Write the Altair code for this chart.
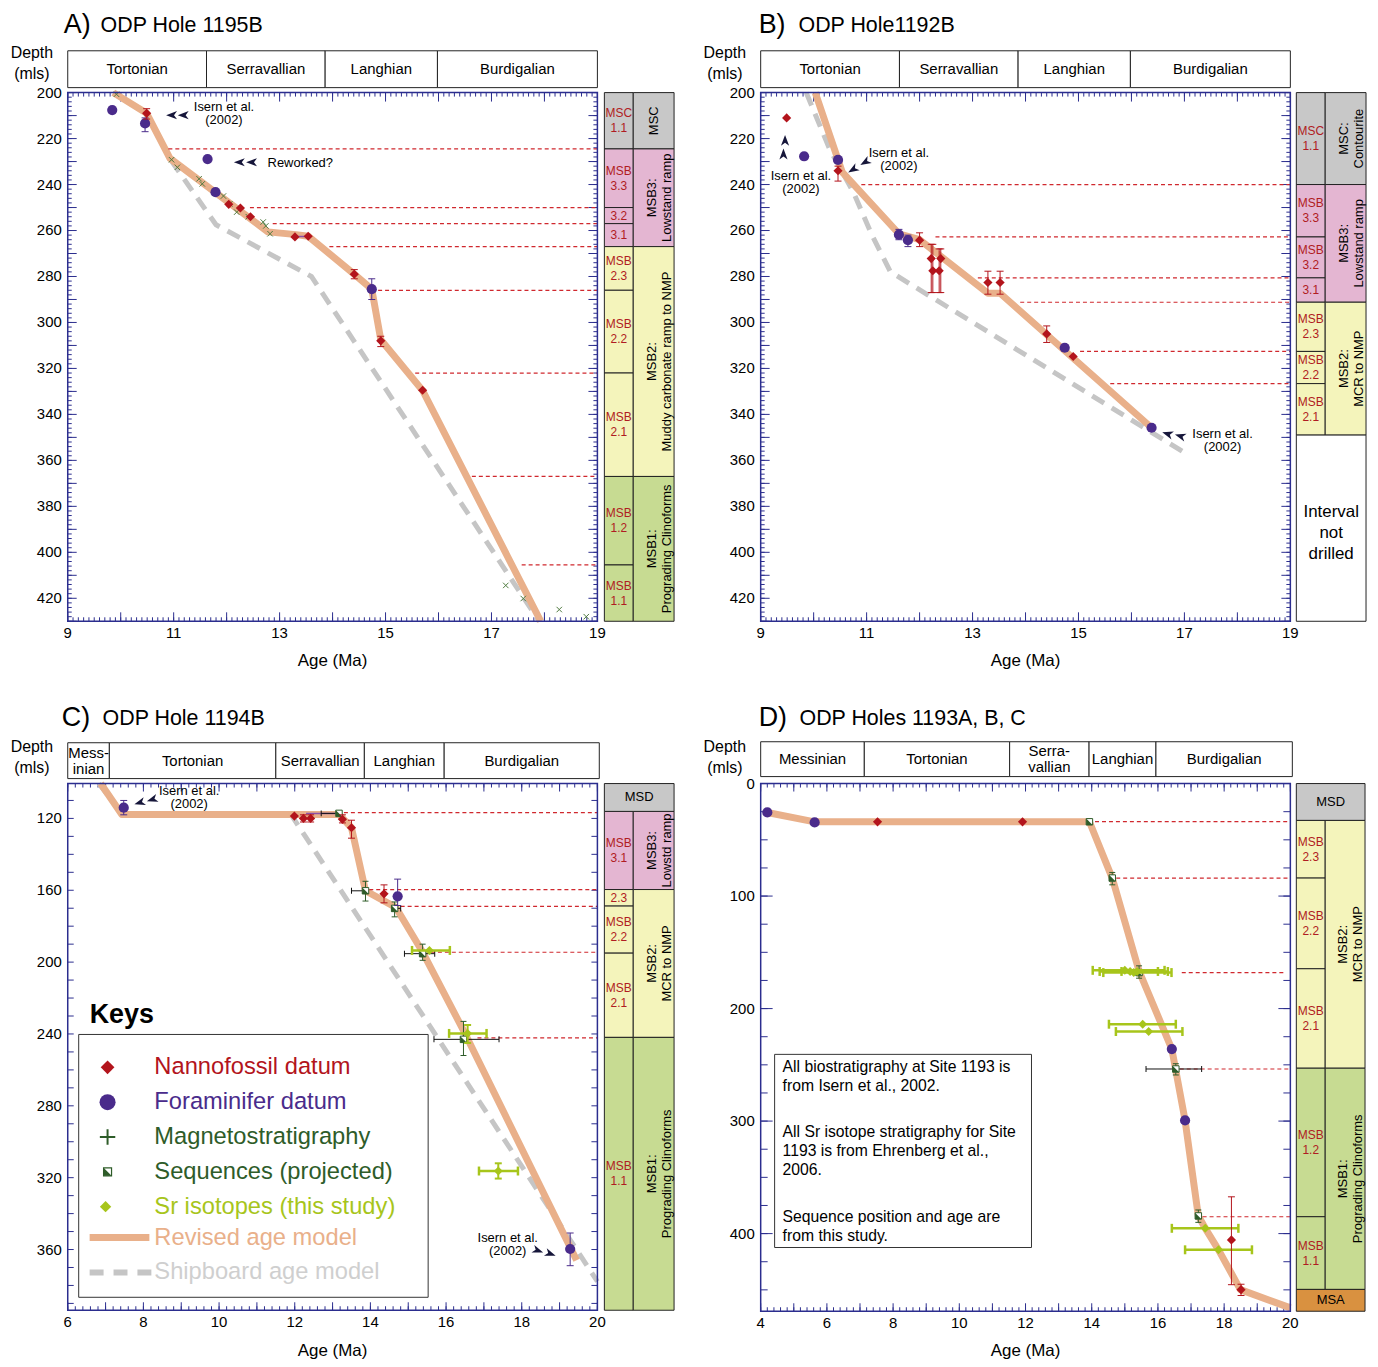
import altair as alt
import numpy as np
import pandas as pd

# ============================ DATA ============================
# ---- stage bars (ages of stage boundaries, Ma)
A_STAGE_NAMES = ["Tortonian", "Serravallian", "Langhian", "Burdigalian"]
A_STAGE_BOUNDS = [9, 11.62, 13.86, 15.98, 19]
B_STAGE_NAMES = ["Tortonian", "Serravallian", "Langhian", "Burdigalian"]
B_STAGE_BOUNDS = [9, 11.62, 13.86, 15.98, 19]
C_STAGE_NAMES = ["Mess-\ninian", "Tortonian", "Serravallian", "Langhian", "Burdigalian"]
C_STAGE_BOUNDS = [6, 7.1, 11.5, 13.84, 15.95, 20.05]
D_STAGE_NAMES = ["Messinian", "Tortonian", "Serra-\nvallian", "Langhian", "Burdigalian"]
D_STAGE_BOUNDS = [4, 7.13, 11.52, 13.92, 15.94, 20.06]

# ---- tick labels
A_XLAB = [9, 11, 13, 15, 17, 19]
A_YLAB = [200, 220, 240, 260, 280, 300, 320, 340, 360, 380, 400, 420]
B_XLAB = [9, 11, 13, 15, 17, 19]
B_YLAB = [200, 220, 240, 260, 280, 300, 320, 340, 360, 380, 400, 420]
C_XLAB = [6, 8, 10, 12, 14, 16, 18, 20]
C_YLAB = [120, 160, 200, 240, 280, 320, 360]
D_XLAB = [4, 6, 8, 10, 12, 14, 16, 18, 20]
D_YLAB = [0, 100, 200, 300, 400]

# ---- Panel A : ODP Hole 1195B
A_REV_AGE = [9.86, 10.49, 10.93, 12.78, 13.31, 13.54, 14.41, 14.74, 14.91, 15.70, 17.93]
A_REV_DEPTH = [200, 209, 228.6, 260.6, 261.8, 262.5, 279, 285.5, 307.5, 329.6, 430]
A_SHIP_AGE = [10.95, 11.8, 13.6, 17.9]
A_SHIP_DEPTH = [229.5, 257.5, 280, 430]
A_FORAM_AGE = [9.84, 10.46, 11.64, 11.79, 14.74]
A_FORAM_DEPTH = [207.6, 213.4, 228.9, 243.3, 285.5]
A_FORAM_ERR = [None, (211, 217), None, None, (281, 290)]
A_NANNO_AGE = [10.49, 12.04, 12.26, 12.45, 13.29, 13.54, 14.41, 14.91, 15.70]
A_NANNO_DEPTH = [209, 248.6, 250.2, 254, 262.8, 262.5, 279, 308, 329.5]
A_NANNO_ERR = [(207, 211.5), None, None, None, None, None, (277, 281), (306, 310.5), None]
A_MAG_AGE = [9.92, 10.96, 11.07, 11.48, 11.54, 11.94, 12.06, 12.19, 12.41, 12.69, 12.74, 12.82,
             17.27, 17.6, 18.28, 18.79]
A_MAG_DEPTH = [200.7, 229.2, 232.5, 237.5, 239.7, 245, 248.4, 252, 254, 256.3, 258, 261.4,
               414.4, 420.1, 424.9, 428]
A_RANGE_FROM = [13.29]
A_RANGE_TO = [13.54]
A_RANGE_DEPTH = [262.6]
A_SEQLINE_DEPTH = [224.5, 250, 257, 267, 286, 322, 367, 405.5]
A_SEQLINE_START = [10.9, 12.44, 12.87, 13.94, 14.86, 15.56, 16.63, 17.57]
A_NOTE_TEXT = ["Isern et al.\n(2002)", "Reworked?"]
A_NOTE_AGE = [11.95, 13.39]
A_NOTE_DEPTH = [209.3, 230.5]
A_ARROW_AGE = [10.96, 11.18, 12.24, 12.47]
A_ARROW_DEPTH = [209.8, 209.8, 230.3, 230.3]
A_ARROW_ANGLE = [0, 0, 0, 0]
A_SUB_TOP = [200, 224.5, 250, 257, 267, 286, 322, 367, 405.5]
A_SUB_BOT = [224.5, 250, 257, 267, 286, 322, 367, 405.5, 430]
A_SUB_LABEL = ["MSC\n1.1", "MSB\n3.3", "3.2", "3.1", "MSB\n2.3", "MSB\n2.2", "MSB\n2.1", "MSB\n1.2", "MSB\n1.1"]
A_SUB_UNIT = ["MSC", "MSB3", "MSB3", "MSB3", "MSB2", "MSB2", "MSB2", "MSB1", "MSB1"]
A_UNIT_TOP = [200, 224.5, 267, 367]
A_UNIT_BOT = [224.5, 267, 367, 430]
A_UNIT_LABEL = ["MSC", "MSB3:\nLowstand ramp", "MSB2:\nMuddy carbonate ramp to NMP", "MSB1:\nPrograding Clinoforms"]
A_UNIT_UNIT = ["MSC", "MSB3", "MSB2", "MSB1"]

# ---- Panel B : ODP Hole 1192B
B_REV_AGE = [10.03, 10.54, 11.61, 12.0, 13.29, 13.52, 16.38]
B_REV_DEPTH = [200, 234.6, 261.4, 264, 287.3, 287.3, 345.8]
B_SHIP_AGE = [9.86, 10.3, 10.75, 11.1, 11.45, 17.0]
B_SHIP_DEPTH = [200, 224.5, 243.3, 262, 278, 356.6]
B_FORAM_AGE = [9.82, 10.46, 11.61, 11.78, 14.74, 16.38]
B_FORAM_DEPTH = [227.7, 229.3, 261.8, 264.2, 311, 345.8]
B_FORAM_ERR = [None, None, (259.5, 264), (262, 267), None, None]
B_NANNO_AGE = [9.49, 10.46, 12.0, 12.22, 12.25, 12.37, 12.4, 13.29, 13.52, 14.4, 14.9]
B_NANNO_DEPTH = [211, 234, 264.2, 272.2, 277.5, 277.5, 272.2, 282.6, 282.6, 305, 314.8]
B_NANNO_ERR = [None, (232, 238.5), (261, 267), (266, 287), (266, 287), (268, 287), (268, 287),
               (277.7, 287.7), (277.7, 287.7), (301.5, 308.7), None]
B_SEQLINE_DEPTH = [240, 262.8, 280.6, 291.2, 312.6, 326.6]
B_SEQLINE_START = [10.9, 12.3, 13.1, 13.9, 15.03, 15.6]
B_NOTE_TEXT = ["Isern et al.\n(2002)", "Isern et al.\n(2002)", "Isern et al.\n(2002)"]
B_NOTE_AGE = [9.76, 11.61, 17.72]
B_NOTE_DEPTH = [239, 229, 351.3]
B_ARROW_AGE = [9.46, 9.43, 10.74, 10.97, 16.68, 16.92]
B_ARROW_DEPTH = [220.8, 226.7, 233.5, 230.3, 348.5, 349.4]
B_ARROW_ANGLE = [90, 90, 329, 329, 17, 17]
B_SUB_TOP = [200, 240, 262.8, 280.6, 291.2, 312.6, 326.6]
B_SUB_BOT = [240, 262.8, 280.6, 291.2, 312.6, 326.6, 349]
B_SUB_LABEL = ["MSC\n1.1", "MSB\n3.3", "MSB\n3.2", "3.1", "MSB\n2.3", "MSB\n2.2", "MSB\n2.1"]
B_SUB_UNIT = ["MSC", "MSB3", "MSB3", "MSB3", "MSB2", "MSB2", "MSB2"]
B_UNIT_TOP = [200, 240, 291.2]
B_UNIT_BOT = [240, 291.2, 349]
B_UNIT_LABEL = ["MSC:\nContourite", "MSB3:\nLowstand ramp", "MSB2:\nMCR to NMP"]
B_UNIT_UNIT = ["MSC", "MSB3", "MSB2"]
B_FULL_TOP = [349]
B_FULL_BOT = [430]
B_FULL_LABEL = ["Interval\nnot\ndrilled"]
B_FULL_UNIT = ["none"]

# ---- Panel C : ODP Hole 1194B
C_REV_AGE = [6.87, 7.43, 13.17, 13.5, 13.87, 14.67, 15.38, 16.5, 19.45]
C_REV_DEPTH = [100.6, 117.8, 117.8, 125.2, 160.3, 169.5, 194.4, 239.7, 366]
C_SHIP_AGE = [6.82, 7.45, 11.9, 20.0]
C_SHIP_DEPTH = [100.6, 117.8, 117.8, 377.8]
C_FORAM_AGE = [7.48, 14.72, 19.28]
C_FORAM_DEPTH = [114, 163.4, 359.7]
C_FORAM_ERR = [(110, 118), (153.8, 168.5), (350.8, 369)]
C_NANNO_AGE = [11.99, 12.23, 12.42, 13.26, 13.5, 14.36]
C_NANNO_DEPTH = [118.7, 120, 120, 120.5, 125.2, 162]
C_NANNO_ERR = [None, (118, 122), (118, 122), (118, 122.5), (121, 131), (157, 167)]
C_SEQ_AGE = [13.17, 13.87, 14.64, 15.38, 16.46]
C_SEQ_DEPTH = [117.2, 160.3, 170.1, 195.3, 243]
C_SEQ_AERR = [(12.7, 13.17), (13.5, 13.87), (14.64, 14.8), (14.9, 15.7), (15.68, 17.4)]
C_SEQ_DERR = [None, (155, 166), (166.5, 174.8), (190, 199), (233, 252)]
C_SR_AGE = [15.56, 16.57, 17.38]
C_SR_DEPTH = [193.5, 239.7, 316.3]
C_SR_AERR = [(15.1, 16.1), (16.08, 17.07), (16.87, 17.9)]
C_SR_DERR = [None, (235, 245), (312, 320.5)]
C_RANGE_FROM = [12.3]
C_RANGE_TO = [13.17]
C_RANGE_DEPTH = [117.3]
C_SEQLINE_DEPTH = [116.8, 159.6, 169, 194.5, 242.2]
C_SEQLINE_START = [13.3, 13.97, 14.8, 15.6, 16.83]
C_NOTE_TEXT = ["Isern et al.\n(2002)", "Isern et al.\n(2002)"]
C_NOTE_AGE = [9.21, 17.63]
C_NOTE_DEPTH = [108.5, 357.2]
C_ARROW_AGE = [7.9, 8.23, 18.43, 18.76]
C_ARROW_DEPTH = [111.3, 109.5, 360.6, 362.4]
C_ARROW_ANGLE = [343, 343, 200, 200]
C_SUB_TOP = [116.1, 159.6, 168.8, 195, 241.9]
C_SUB_BOT = [159.6, 168.8, 195, 241.9, 393.8]
C_SUB_LABEL = ["MSB\n3.1", "2.3", "MSB\n2.2", "MSB\n2.1", "MSB\n1.1"]
C_SUB_UNIT = ["MSB3", "MSB2", "MSB2", "MSB2", "MSB1"]
C_UNIT_TOP = [116.1, 159.6, 241.9]
C_UNIT_BOT = [159.6, 241.9, 393.8]
C_UNIT_LABEL = ["MSB3:\nLowstd ramp", "MSB2:\nMCR to NMP", "MSB1:\nPrograding Clinoforms"]
C_UNIT_UNIT = ["MSB3", "MSB2", "MSB1"]
C_FULL_TOP = [100.6]
C_FULL_BOT = [116.1]
C_FULL_LABEL = ["MSD"]
C_FULL_UNIT = ["MSD"]

# ---- Panel D : ODP Holes 1193A, B, C
D_REV_AGE = [4.2, 5.63, 13.93, 14.62, 15.43, 16.42, 16.82, 17.22, 17.43, 17.83, 18.49, 20.0]
D_REV_DEPTH = [25.7, 34, 34, 84, 166.7, 236, 299.4, 384.3, 395.3, 414.4, 449.8, 466]
D_FORAM_AGE = [4.2, 5.63, 16.42, 16.82]
D_FORAM_DEPTH = [25.7, 34.5, 236, 299.4]
D_NANNO_AGE = [7.53, 11.91, 18.22, 18.51]
D_NANNO_DEPTH = [34, 34, 405.6, 449.8]
D_NANNO_ERR = [None, None, (367.3, 445.4), (445, 455)]
D_SEQ_AGE = [13.93, 14.62, 15.43, 16.54, 17.22]
D_SEQ_DEPTH = [34, 84, 168, 253.7, 384.3]
D_SEQ_AERR = [None, (14.55, 14.68), None, (15.64, 17.32), None]
D_SEQ_DERR = [None, (79, 90), (162, 173), (249, 259), (379, 390)]
D_SR_AGE = [15.0, 15.16, 15.27, 15.37, 15.54, 15.72, 17.43, 17.83]
D_SR_DEPTH = [166, 167, 168, 167, 213.9, 220.4, 395.3, 414.4]
D_SR_AERR = [(14.03, 16.2), (14.24, 16.3), (14.35, 16.41), (14.9, 16.0), (14.52, 16.54),
             (14.73, 16.74), (16.42, 18.43), (16.82, 18.84)]
D_SEQLINE_DEPTH = [33.9, 84, 168, 253.7, 385]
D_SEQLINE_START = [14.1, 14.74, 16.72, 16.66, 17.35]
D_SEQLINE_END = [20, 20, 19.8, 20, 20]
D_SUB_TOP = [32.7, 84, 164.6, 253, 385]
D_SUB_BOT = [84, 164.6, 253, 385, 449.6]
D_SUB_LABEL = ["MSB\n2.3", "MSB\n2.2", "MSB\n2.1", "MSB\n1.2", "MSB\n1.1"]
D_SUB_UNIT = ["MSB2", "MSB2", "MSB2", "MSB1", "MSB1"]
D_UNIT_TOP = [32.7, 253]
D_UNIT_BOT = [253, 449.6]
D_UNIT_LABEL = ["MSB2:\nMCR to NMP", "MSB1:\nPrograding Clinoforms"]
D_UNIT_UNIT = ["MSB2", "MSB1"]
D_FULL_TOP = [0, 449.6]
D_FULL_BOT = [32.7, 469]
D_FULL_LABEL = ["MSD", "MSA"]
D_FULL_UNIT = ["MSD", "MSA"]

# ---- texts
PANEL_LETTERS = ["A)", "B)", "C)", "D)"]
PANEL_TITLES = ["ODP Hole 1195B", "ODP Hole1192B", "ODP Hole 1194B", "ODP Holes 1193A, B, C"]
LEGEND_LABELS = ["Nannofossil datum", "Foraminifer datum", "Magnetostratigraphy", "Sequences (projected)",
                 "Sr isotopes (this study)", "Revised age model", "Shipboard age model"]
D_NOTE_LINES = ["All biostratigraphy at Site 1193 is", "from Isern et al., 2002.",
                "All Sr isotope stratigraphy for Site", "1193 is from Ehrenberg et al.,", "2006.",
                "Sequence position and age are", "from this study."]

# ============================ STYLE / LAYOUT ============================
W, H = 1368, 1351
FONT = "Liberation Sans"
FRAME = "#2b2d8e"
RED = "#b3141c"
PURPLE = "#4a2b8b"
GREEN = "#2e5c29"
SRC = "#a7c51b"
TAN = "#e9b08a"
SHIPGRAY = "#c5c5c5"
DRED = "#d0282e"
SEQRED = "#b01c22"
ARROWC = "#16163a"
UNIT_FILL = {"MSC": "#c8c8c8", "MSD": "#c8c8c8", "MSB3": "#e4b6d2", "MSB2": "#f4f4bb",
             "MSB1": "#c7db92", "MSA": "#d99140", "none": "#ffffff"}
ARROW = "M-1,0L1,-0.75L0.45,0L1,0.75Z"
XMARK = "M-1,-1L1,1M-1,1L1,-1"
PLUS = "M-1,0L1,0M0,-1L0,1"
HALF = "M-1,-1L-1,1L1,1Z"

P = {
    "A": dict(x0=60, x1=592, y0=82, y1=613, xd=[9, 19], yd=[200, 430], seq=[599, 628, 669], stage=[40, 77]),
    "B": dict(x0=756, x1=1288, y0=82, y1=613, xd=[9, 19], yd=[200, 430], seq=[1294, 1323, 1364], stage=[40, 77]),
    "C": dict(x0=60, x1=592, y0=776, y1=1305, xd=[6, 20], yd=[100.6, 393.8], seq=[599, 628, 669], stage=[735, 771]),
    "D": dict(x0=756, x1=1288, y0=776, y1=1306, xd=[4, 20], yd=[0, 469], seq=[1294, 1323, 1363], stage=[734, 769]),
}
RULERS = {
    "A": ([(0.1, 4), (1, 9)], [(2, 4), (10, 9)]),
    "B": ([(0.1, 4), (1, 9)], [(2, 4), (10, 9)]),
    "C": ([(0.2, 4), (1, 8)], [(10, 6)]),
    "D": ([(0.2, 4), (1, 8)], [(25, 7), (100, 12)]),
}


def nlines(t):
    return t.count("\n") + 1


def sx(p):
    g = P[p]
    return alt.Scale(domain=g["xd"], range=[g["x0"], g["x1"]], nice=False, zero=False)


def sy(p):
    g = P[p]
    return alt.Scale(domain=g["yd"], range=[g["y0"], g["y1"]], nice=False, zero=False)


def X(p, f):
    return alt.X(f"{f}:Q", scale=sx(p), axis=None)


def Y(p, f):
    return alt.Y(f"{f}:Q", scale=sy(p), axis=None)


def tick_values(dom, step):
    start = np.ceil(dom[0] / step - 1e-9) * step
    return [round(float(v), 4) for v in np.arange(start, dom[1] + 1e-9, step)]


def pts_df(age, depth, derr=None, aerr=None):
    rows = []
    for i in range(len(age)):
        r = {"age": age[i], "depth": depth[i], "lo": np.nan, "hi": np.nan, "alo": np.nan, "ahi": np.nan}
        if derr is not None and derr[i] is not None:
            r["lo"], r["hi"] = derr[i]
        if aerr is not None and aerr[i] is not None:
            r["alo"], r["ahi"] = aerr[i]
        rows.append(r)
    return pd.DataFrame(rows)


def frame_layers(p, xlab, ylab):
    g = P[p]
    df = pd.DataFrame({"xa": [g["xd"][0]], "xb": [g["xd"][1]], "ya": [g["yd"][0]], "yb": [g["yd"][1]]})
    frame = alt.Chart(df).mark_rect(fillOpacity=0, stroke=FRAME, strokeWidth=1.5).encode(
        x=X(p, "xa"), x2="xb", y=Y(p, "ya"), y2="yb")
    xdf = pd.DataFrame({"v": xlab, "t": [str(v) for v in xlab]})
    ydf = pd.DataFrame({"v": ylab, "t": [str(v) for v in ylab]})
    xl = alt.Chart(xdf).mark_text(fontSize=15, align="center", baseline="top", color="black").encode(
        x=X(p, "v"), y=alt.value(g["y1"] + 5), text="t:N")
    yl = alt.Chart(ydf).mark_text(fontSize=15, align="right", baseline="middle", color="black").encode(
        y=Y(p, "v"), x=alt.value(g["x0"] - 6), text="t:N")
    return [frame, xl, yl]


def ruler_layers(p):
    g = P[p]
    xspec, yspec = RULERS[p]
    out = []
    for step, L in xspec:
        b = alt.Chart(pd.DataFrame({"v": tick_values(g["xd"], step)})).mark_rule(color=FRAME, strokeWidth=1)
        out.append(b.encode(x=X(p, "v"), y=alt.value(g["y1"]), y2=alt.value(g["y1"] - L)))
        out.append(b.encode(x=X(p, "v"), y=alt.value(g["y0"]), y2=alt.value(g["y0"] + L)))
    for step, L in yspec:
        b = alt.Chart(pd.DataFrame({"v": tick_values(g["yd"], step)})).mark_rule(color=FRAME, strokeWidth=1)
        out.append(b.encode(y=Y(p, "v"), x=alt.value(g["x0"]), x2=alt.value(g["x0"] + L)))
        out.append(b.encode(y=Y(p, "v"), x=alt.value(g["x1"]), x2=alt.value(g["x1"] - L)))
    return out


def stage_layers(p, names, bounds):
    g = P[p]
    df = pd.DataFrame({"name": names, "a0": bounds[:-1], "a1": bounds[1:]})
    df["mid"] = (df["a0"] + df["a1"]) / 2
    df["n"] = [nlines(t) for t in names]
    y0, y1 = g["stage"]
    out = [alt.Chart(df).mark_rect(fill="white", stroke="#222222", strokeWidth=1).encode(
        x=X(p, "a0"), x2="a1", y=alt.value(y0), y2=alt.value(y1))]
    for n in sorted(df["n"].unique()):
        sub = df[df["n"] == n]
        out.append(alt.Chart(sub).mark_text(fontSize=15, lineBreak="\n", lineHeight=16, color="black").encode(
            x=X(p, "mid"), y=alt.value((y0 + y1) / 2 - (n - 1) * 8), text="name:N"))
    return out


def line_layer(p, ages, depths, color, width, dash=None):
    df = pd.DataFrame({"age": ages, "depth": depths, "i": list(range(len(ages)))})
    kw = dict(color=color, strokeWidth=width, strokeCap="butt", strokeJoin="round")
    if dash:
        kw["strokeDash"] = dash
    return alt.Chart(df).mark_line(**kw).encode(x=X(p, "age"), y=Y(p, "depth"), order="i:Q")


def seqline_layer(p, depths, starts, ends=None):
    if ends is None:
        ends = [P[p]["xd"][1]] * len(depths)
    df = pd.DataFrame({"depth": depths, "a0": starts, "a1": ends})
    return alt.Chart(df).mark_rule(color=DRED, strokeWidth=1.2, strokeDash=[4, 3]).encode(
        x=X(p, "a0"), x2="a1", y=Y(p, "depth"))


def range_layer(p, a0, a1, d, color):
    df = pd.DataFrame({"a0": a0, "a1": a1, "depth": d})
    return alt.Chart(df).mark_rule(color=color, strokeWidth=1.5).encode(x=X(p, "a0"), x2="a1", y=Y(p, "depth"))


def vbar(p, df, color, cap=7, width=1.0):
    d = df.dropna(subset=["lo"])
    if d.empty:
        return []
    b = alt.Chart(d)
    tk = dict(orient="horizontal", size=cap, thickness=width, color=color, opacity=1)
    return [b.mark_rule(color=color, strokeWidth=width).encode(x=X(p, "age"), y=Y(p, "lo"), y2="hi"),
            b.mark_tick(**tk).encode(x=X(p, "age"), y=Y(p, "lo")),
            b.mark_tick(**tk).encode(x=X(p, "age"), y=Y(p, "hi"))]


def hbar(p, df, color, cap=7, width=1.0):
    d = df.dropna(subset=["alo"])
    if d.empty:
        return []
    b = alt.Chart(d)
    tk = dict(orient="vertical", size=cap, thickness=width, color=color, opacity=1)
    return [b.mark_rule(color=color, strokeWidth=width).encode(x=X(p, "alo"), x2="ahi", y=Y(p, "depth")),
            b.mark_tick(**tk).encode(x=X(p, "alo"), y=Y(p, "depth")),
            b.mark_tick(**tk).encode(x=X(p, "ahi"), y=Y(p, "depth"))]


def foram_layers(p, age, depth, err=None):
    df = pts_df(age, depth, err)
    return vbar(p, df, PURPLE) + [alt.Chart(df).mark_circle(size=105, color=PURPLE, opacity=1).encode(
        x=X(p, "age"), y=Y(p, "depth"))]


def nanno_layers(p, age, depth, err=None):
    df = pts_df(age, depth, err)
    return vbar(p, df, RED) + [alt.Chart(df).mark_point(shape="diamond", filled=True, size=85, color=RED,
                                                        opacity=1).encode(x=X(p, "age"), y=Y(p, "depth"))]


def mag_layers(p, age, depth):
    df = pts_df(age, depth)
    return [alt.Chart(df).mark_point(shape=XMARK, filled=False, size=30, color="#4f7a3f", strokeWidth=1,
                                     opacity=1).encode(x=X(p, "age"), y=Y(p, "depth"))]


def seq_marker_layers(p, age, depth, derr, aerr):
    df = pts_df(age, depth, derr, aerr)
    out = hbar(p, df, "#111111", cap=6) + vbar(p, df, GREEN, cap=6)
    out.append(alt.Chart(df).mark_point(shape="square", filled=True, fill="white", stroke=GREEN, strokeWidth=1,
                                        size=42, opacity=1).encode(x=X(p, "age"), y=Y(p, "depth")))
    out.append(alt.Chart(df).mark_point(shape=HALF, filled=True, color=GREEN, size=42, opacity=1).encode(
        x=X(p, "age"), y=Y(p, "depth")))
    return out


def sr_layers(p, age, depth, aerr, derr=None):
    df = pts_df(age, depth, derr, aerr)
    out = hbar(p, df, SRC, cap=9, width=2.5) + vbar(p, df, SRC, cap=7, width=2)
    out.append(alt.Chart(df).mark_point(shape="diamond", filled=True, size=80, color=SRC, opacity=1).encode(
        x=X(p, "age"), y=Y(p, "depth")))
    return out


def note_layers(p, texts, ages, depths, arrow_age, arrow_depth, arrow_angle):
    tdf = pd.DataFrame({"t": texts, "age": ages, "depth": depths})
    tdf["n"] = [nlines(t) for t in texts]
    adf = pd.DataFrame({"age": arrow_age, "depth": arrow_depth, "ang": arrow_angle})
    out = []
    for n in sorted(tdf["n"].unique()):
        sub = tdf[tdf["n"] == n]
        out.append(alt.Chart(sub).mark_text(fontSize=13, lineBreak="\n", lineHeight=13, color="black",
                                            dy=-(n - 1) * 6.5).encode(
            x=X(p, "age"), y=Y(p, "depth"), text="t:N"))
    out.append(alt.Chart(adf).mark_point(shape=ARROW, filled=True, color=ARROWC, size=120, opacity=1).encode(
        x=X(p, "age"), y=Y(p, "depth"), angle=alt.Angle("ang:Q", scale=None)))
    return out


def seq_group(p, sub, units, full=None):
    g = P[p]
    span = g["seq"][2] - g["seq"][0]
    xs = alt.Scale(domain=[0, 1], range=[g["seq"][0], g["seq"][2]], nice=False, zero=False)
    a = (g["seq"][1] - g["seq"][0]) / span

    def XS(f):
        return alt.X(f"{f}:Q", scale=xs, axis=None)

    def table(tops, bots, labels, uns, c0, c1):
        df = pd.DataFrame({"top": tops, "bot": bots, "label": labels, "unit": uns})
        df["fill"] = [UNIT_FILL[u] for u in uns]
        df["c0"], df["c1"], df["cx"] = c0, c1, (c0 + c1) / 2
        df["mid"] = (df["top"] + df["bot"]) / 2
        df["n"] = [nlines(t) for t in labels]
        return df

    layers = []
    sdf = table(*sub, 0.0, a)
    udf = table(*units, a, 1.0)
    # two-line rotated labels: nudge the pair of lines toward the column centre
    udf["cx"] = udf["cx"] - (udf["n"] - 1) * 2.0 / span
    frames = [sdf, udf]
    fdf = None
    if full is not None:
        fdf = table(*full, 0.0, 1.0)
        fdf["fs"] = [17 if n > 1 else 13 for n in fdf["n"]]
        frames.append(fdf)
    for df in frames:
        layers.append(alt.Chart(df).mark_rect(stroke="#222222", strokeWidth=1).encode(
            x=XS("c0"), x2="c1", y=Y(p, "top"), y2="bot", fill=alt.Fill("fill:N", scale=None)))
    for n in sorted(sdf["n"].unique()):
        part = sdf[sdf["n"] == n]
        layers.append(alt.Chart(part).mark_text(fontSize=12, lineBreak="\n", lineHeight=15, color=SEQRED,
                                                dy=-(n - 1) * 7.5).encode(
            x=XS("cx"), y=Y(p, "mid"), text="label:N"))
    layers.append(alt.Chart(udf).mark_text(fontSize=13, lineBreak="\n", lineHeight=15, angle=270,
                                           color="black").encode(x=XS("cx"), y=Y(p, "mid"), text="label:N"))
    if fdf is not None:
        for n in sorted(fdf["n"].unique()):
            part = fdf[fdf["n"] == n]
            layers.append(alt.Chart(part).mark_text(lineBreak="\n", lineHeight=21, color="black",
                                                    dy=-(n - 1) * 8).encode(
                x=XS("cx"), y=Y(p, "mid"), text="label:N", size=alt.Size("fs:Q", scale=None)))
    return alt.layer(*layers)


# ============================ PANELS ============================
groups = []

# ---- A
la = ruler_layers("A") + stage_layers("A", A_STAGE_NAMES, A_STAGE_BOUNDS)
la += [line_layer("A", A_SHIP_AGE, A_SHIP_DEPTH, SHIPGRAY, 5, [14, 9]),
       line_layer("A", A_REV_AGE, A_REV_DEPTH, TAN, 7),
       seqline_layer("A", A_SEQLINE_DEPTH, A_SEQLINE_START),
       range_layer("A", A_RANGE_FROM, A_RANGE_TO, A_RANGE_DEPTH, "#8a4fa8")]
la += mag_layers("A", A_MAG_AGE, A_MAG_DEPTH)
la += foram_layers("A", A_FORAM_AGE, A_FORAM_DEPTH, A_FORAM_ERR)
la += nanno_layers("A", A_NANNO_AGE, A_NANNO_DEPTH, A_NANNO_ERR)
la += note_layers("A", A_NOTE_TEXT, A_NOTE_AGE, A_NOTE_DEPTH, A_ARROW_AGE, A_ARROW_DEPTH, A_ARROW_ANGLE)
la += frame_layers("A", A_XLAB, A_YLAB)
groups.append(alt.layer(*la))
groups.append(seq_group("A", (A_SUB_TOP, A_SUB_BOT, A_SUB_LABEL, A_SUB_UNIT),
                        (A_UNIT_TOP, A_UNIT_BOT, A_UNIT_LABEL, A_UNIT_UNIT)))

# ---- B
lb = ruler_layers("B") + stage_layers("B", B_STAGE_NAMES, B_STAGE_BOUNDS)
lb += [line_layer("B", B_SHIP_AGE, B_SHIP_DEPTH, SHIPGRAY, 5, [14, 9]),
       line_layer("B", B_REV_AGE, B_REV_DEPTH, TAN, 7),
       seqline_layer("B", B_SEQLINE_DEPTH, B_SEQLINE_START)]
lb += nanno_layers("B", B_NANNO_AGE, B_NANNO_DEPTH, B_NANNO_ERR)
lb += foram_layers("B", B_FORAM_AGE, B_FORAM_DEPTH, B_FORAM_ERR)
lb += note_layers("B", B_NOTE_TEXT, B_NOTE_AGE, B_NOTE_DEPTH, B_ARROW_AGE, B_ARROW_DEPTH, B_ARROW_ANGLE)
lb += frame_layers("B", B_XLAB, B_YLAB)
groups.append(alt.layer(*lb))
groups.append(seq_group("B", (B_SUB_TOP, B_SUB_BOT, B_SUB_LABEL, B_SUB_UNIT),
                        (B_UNIT_TOP, B_UNIT_BOT, B_UNIT_LABEL, B_UNIT_UNIT),
                        (B_FULL_TOP, B_FULL_BOT, B_FULL_LABEL, B_FULL_UNIT)))

# ---- C
lc = ruler_layers("C") + stage_layers("C", C_STAGE_NAMES, C_STAGE_BOUNDS)
lc += [line_layer("C", C_SHIP_AGE, C_SHIP_DEPTH, SHIPGRAY, 5, [14, 9]),
       line_layer("C", C_REV_AGE, C_REV_DEPTH, TAN, 7),
       seqline_layer("C", C_SEQLINE_DEPTH, C_SEQLINE_START),
       range_layer("C", C_RANGE_FROM, C_RANGE_TO, C_RANGE_DEPTH, "#8a4fa8")]
lc += seq_marker_layers("C", C_SEQ_AGE, C_SEQ_DEPTH, C_SEQ_DERR, C_SEQ_AERR)
lc += sr_layers("C", C_SR_AGE, C_SR_DEPTH, C_SR_AERR, C_SR_DERR)
lc += nanno_layers("C", C_NANNO_AGE, C_NANNO_DEPTH, C_NANNO_ERR)
lc += foram_layers("C", C_FORAM_AGE, C_FORAM_DEPTH, C_FORAM_ERR)
lc += note_layers("C", C_NOTE_TEXT, C_NOTE_AGE, C_NOTE_DEPTH, C_ARROW_AGE, C_ARROW_DEPTH, C_ARROW_ANGLE)
lc += frame_layers("C", C_XLAB, C_YLAB)
groups.append(alt.layer(*lc))
groups.append(seq_group("C", (C_SUB_TOP, C_SUB_BOT, C_SUB_LABEL, C_SUB_UNIT),
                        (C_UNIT_TOP, C_UNIT_BOT, C_UNIT_LABEL, C_UNIT_UNIT),
                        (C_FULL_TOP, C_FULL_BOT, C_FULL_LABEL, C_FULL_UNIT)))

# ---- D
ld = ruler_layers("D") + stage_layers("D", D_STAGE_NAMES, D_STAGE_BOUNDS)
ld += [line_layer("D", D_REV_AGE, D_REV_DEPTH, TAN, 7),
       seqline_layer("D", D_SEQLINE_DEPTH, D_SEQLINE_START, D_SEQLINE_END)]
ld += seq_marker_layers("D", D_SEQ_AGE, D_SEQ_DEPTH, D_SEQ_DERR, D_SEQ_AERR)
ld += sr_layers("D", D_SR_AGE, D_SR_DEPTH, D_SR_AERR)
ld += nanno_layers("D", D_NANNO_AGE, D_NANNO_DEPTH, D_NANNO_ERR)
ld += foram_layers("D", D_FORAM_AGE, D_FORAM_DEPTH)
ld += frame_layers("D", D_XLAB, D_YLAB)
groups.append(alt.layer(*ld))
groups.append(seq_group("D", (D_SUB_TOP, D_SUB_BOT, D_SUB_LABEL, D_SUB_UNIT),
                        (D_UNIT_TOP, D_UNIT_BOT, D_UNIT_LABEL, D_UNIT_UNIT),
                        (D_FULL_TOP, D_FULL_BOT, D_FULL_LABEL, D_FULL_UNIT)))

# ============================ FREE TEXT, KEY, NOTE BOX (pixel layout) ============================
PX = alt.X("px:Q", scale=None)
PY = alt.Y("py:Q", scale=None)
one = pd.DataFrame({"a": [0]})
misc = []

LETTER_PX, LETTER_PY = [56, 754, 54, 754], [14, 14, 710, 710]
TITLE_PX, TITLE_PY = [93, 794, 95, 795], [15, 15, 711, 711]
misc.append(alt.Chart(pd.DataFrame({"t": PANEL_LETTERS, "px": LETTER_PX, "py": LETTER_PY})).mark_text(
    fontSize=27, align="left", baseline="middle", color="black").encode(x=PX, y=PY, text="t:N"))
misc.append(alt.Chart(pd.DataFrame({"t": PANEL_TITLES, "px": TITLE_PX, "py": TITLE_PY})).mark_text(
    fontSize=21.5, align="left", baseline="middle", color="black").encode(x=PX, y=PY, text="t:N"))
DEPTH_PX, DEPTH_PY = [24, 720, 24, 720], [42, 42, 739, 739]
misc.append(alt.Chart(pd.DataFrame({"t": ["Depth\n(mls)"] * 4, "px": DEPTH_PX, "py": DEPTH_PY})).mark_text(
    fontSize=16, lineBreak="\n", lineHeight=21, align="center", baseline="middle", color="black").encode(
    x=PX, y=PY, text="t:N"))
AGE_PX, AGE_PY = [326, 1022, 326, 1022], [653, 653, 1346, 1346]
misc.append(alt.Chart(pd.DataFrame({"t": ["Age (Ma)"] * 4, "px": AGE_PX, "py": AGE_PY})).mark_text(
    fontSize=17, align="center", baseline="middle", color="black").encode(x=PX, y=PY, text="t:N"))

# key (panel C)
KEY_BOX = (71, 422, 1028, 1292)
KEY_SYM_X, KEY_TXT_X = 100, 147
KEY_ROW_Y = [1061, 1096, 1131, 1166, 1201, 1232, 1267]
KEY_COLORS = [RED, PURPLE, GREEN, GREEN, SRC, TAN, "#cfcfcf"]
misc.append(alt.Chart(one).mark_rect(fill="white", stroke="#333333", strokeWidth=1).encode(
    x=alt.value(KEY_BOX[0]), x2=alt.value(KEY_BOX[1]), y=alt.value(KEY_BOX[2]), y2=alt.value(KEY_BOX[3])))
misc.append(alt.Chart(pd.DataFrame({"t": ["Keys"], "px": [82], "py": [1008]})).mark_text(
    fontSize=27, fontWeight="bold", align="left", baseline="middle", color="black").encode(x=PX, y=PY, text="t:N"))
misc.append(alt.Chart(pd.DataFrame({"t": LEGEND_LABELS, "px": [KEY_TXT_X] * 7, "py": KEY_ROW_Y,
                                    "c": KEY_COLORS})).mark_text(
    fontSize=23.8, align="left", baseline="middle").encode(x=PX, y=PY, text="t:N", color=alt.Color("c:N", scale=None)))
misc.append(alt.Chart(one).mark_point(shape="diamond", filled=True, size=190, color=RED, opacity=1).encode(
    x=alt.value(KEY_SYM_X), y=alt.value(KEY_ROW_Y[0])))
misc.append(alt.Chart(one).mark_circle(size=260, color=PURPLE, opacity=1).encode(
    x=alt.value(KEY_SYM_X), y=alt.value(KEY_ROW_Y[1])))
misc.append(alt.Chart(one).mark_point(shape=PLUS, filled=False, size=240, color=GREEN, strokeWidth=2,
                                      opacity=1).encode(x=alt.value(KEY_SYM_X), y=alt.value(KEY_ROW_Y[2])))
misc.append(alt.Chart(one).mark_point(shape="square", filled=True, fill="white", stroke=GREEN, strokeWidth=1.2,
                                      size=64, opacity=1).encode(x=alt.value(KEY_SYM_X), y=alt.value(KEY_ROW_Y[3])))
misc.append(alt.Chart(one).mark_point(shape=HALF, filled=True, color=GREEN, size=64, opacity=1).encode(
    x=alt.value(KEY_SYM_X), y=alt.value(KEY_ROW_Y[3])))
misc.append(alt.Chart(one).mark_point(shape="diamond", filled=True, size=130, color=SRC, opacity=1).encode(
    x=alt.value(KEY_SYM_X - 2), y=alt.value(KEY_ROW_Y[4])))
misc.append(alt.Chart(one).mark_rule(color=TAN, strokeWidth=7).encode(
    x=alt.value(82), x2=alt.value(142), y=alt.value(KEY_ROW_Y[5])))
misc.append(alt.Chart(one).mark_rule(color=SHIPGRAY, strokeWidth=6, strokeDash=[14, 10]).encode(
    x=alt.value(82), x2=alt.value(146), y=alt.value(KEY_ROW_Y[6])))

# note box (panel D)
NOTE_BOX = (770, 1028, 1048, 1242)
NOTE_PY = [1061, 1080, 1126, 1145, 1164, 1211, 1230]
misc.append(alt.Chart(one).mark_rect(fill="white", stroke="#333333", strokeWidth=1).encode(
    x=alt.value(NOTE_BOX[0]), x2=alt.value(NOTE_BOX[1]), y=alt.value(NOTE_BOX[2]), y2=alt.value(NOTE_BOX[3])))
misc.append(alt.Chart(pd.DataFrame({"t": D_NOTE_LINES, "px": [778] * 7, "py": NOTE_PY})).mark_text(
    fontSize=15.8, align="left", baseline="middle", color="black").encode(x=PX, y=PY, text="t:N"))

groups.append(alt.layer(*misc))

chart = alt.layer(*groups).resolve_scale(x="independent", y="independent").properties(
    width=W, height=H, padding=0, autosize=alt.AutoSizeParams(type="none"), background="white"
).configure_view(strokeWidth=0).configure_text(font=FONT)

chart.save("out.html", embed_options={"renderer": "svg", "actions": False})
